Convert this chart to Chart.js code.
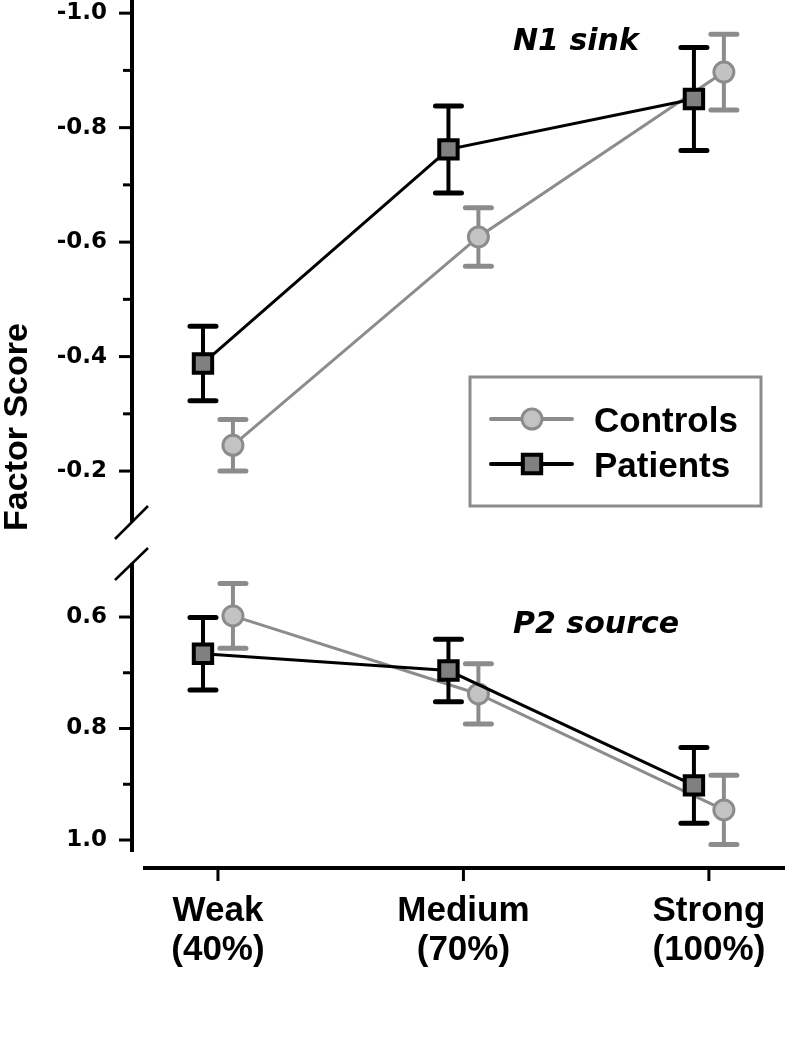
<!DOCTYPE html>
<html><head><meta charset="utf-8">
<script src="https://cdn.jsdelivr.net/npm/chart.js@4.4.1/dist/chart.umd.min.js"></script>
<style>
html,body{margin:0;padding:0;background:#fff;}
#wrap{position:relative;width:785px;height:1050px;overflow:hidden;background:#fff;}
#top{position:absolute;left:0;top:-30px;}
#bot{position:absolute;left:0;top:544px;}
</style></head><body>
<div id="wrap"><canvas id="top" width="785" height="574"></canvas><canvas id="bot" width="785" height="506"></canvas></div>
<script>
// ---- data ----
const categories = ['Weak', 'Medium', 'Strong'];
const intensities = ['(40%)', '(70%)', '(100%)'];
const seriesNames = ['Controls', 'Patients'];
const panelTitles = ['N1 sink', 'P2 source'];
const yTitle = 'Factor Score';

const n1Controls    = [-0.245, -0.609, -0.897];
const n1ControlsErr = [0.045, 0.051, 0.066];
const n1Patients    = [-0.388, -0.762, -0.850];
const n1PatientsErr = [0.065, 0.076, 0.090];

const p2Controls    = [0.598, 0.738, 0.946];
const p2ControlsErr = [0.058, 0.054, 0.062];
const p2Patients    = [0.666, 0.696, 0.902];
const p2PatientsErr = [0.065, 0.056, 0.068];

const n1Ticks = [-1.0, -0.8, -0.6, -0.4, -0.2];
const n1TickLabels = ['-1.0', '-0.8', '-0.6', '-0.4', '-0.2'];
const n1MinorTicks = [-0.9, -0.7, -0.5, -0.3];
const p2Ticks = [0.6, 0.8, 1.0];
const p2TickLabels = ['0.6', '0.8', '1.0'];
const p2MinorTicks = [0.7, 0.9];

// ---- style ----
const SHIFT = 0.061;
const CTRL_LINE = '#8c8c8c', CTRL_FILL = '#c3c3c3';
const PAT_LINE = '#000000', PAT_FILL = '#808080';
const TICK_FONT = {family: 'DejaVu Sans', size: 23, weight: 'bold'};
const CAT_FONT = {family: 'Liberation Sans', size: 35, weight: 'bold', lineHeight: 1.11};

function makeDatasets(ctrl, ctrlErr, pat, patErr) {
  return [
    {label: seriesNames[0], data: ctrl.map((v, i) => ({x: i + SHIFT, y: v})), errors: ctrlErr,
     borderColor: CTRL_LINE, borderWidth: 3, tension: 0, pointStyle: 'circle', pointRadius: 10,
     pointBorderWidth: 3, pointBackgroundColor: CTRL_FILL, pointBorderColor: CTRL_LINE, order: 2, clip: false},
    {label: seriesNames[1], data: pat.map((v, i) => ({x: i - SHIFT, y: v})), errors: patErr,
     borderColor: PAT_LINE, borderWidth: 3, tension: 0, pointStyle: 'rect', pointRadius: 13,
     pointBorderWidth: 4, pointBackgroundColor: PAT_FILL, pointBorderColor: PAT_LINE, order: 1, clip: false}
  ];
}

function decoPlugin(o) {
  return {
    id: 'deco',
    beforeDatasetDraw(chart, args) {
      const ds = chart.data.datasets[args.index];
      const ys = chart.scales.y, ctx = chart.ctx;
      ctx.save();
      ctx.strokeStyle = ds.borderColor;
      args.meta.data.forEach((pt, i) => {
        const v = ds.data[i].y, e = ds.errors[i];
        const y1 = ys.getPixelForValue(v - e), y2 = ys.getPixelForValue(v + e);
        ctx.lineCap = 'butt'; ctx.lineWidth = 4;
        ctx.beginPath(); ctx.moveTo(pt.x, y1); ctx.lineTo(pt.x, y2); ctx.stroke();
        ctx.lineCap = 'round'; ctx.lineWidth = 5;
        [y1, y2].forEach(y => { ctx.beginPath(); ctx.moveTo(pt.x - 13, y); ctx.lineTo(pt.x + 13, y); ctx.stroke(); });
      });
      ctx.restore();
    },
    afterDraw(chart) {
      const ctx = chart.ctx, ca = chart.chartArea, ys = chart.scales.y, xs = chart.scales.x;
      const Y = py => py - o.pageTop;
      ctx.save();
      ctx.strokeStyle = '#000'; ctx.fillStyle = '#000';
      // y axis line
      ctx.lineWidth = 4; ctx.lineCap = 'butt';
      ctx.beginPath(); ctx.moveTo(ca.left - 2, ca.top); ctx.lineTo(ca.left - 2, ca.bottom); ctx.stroke();
      // ticks
      ctx.lineWidth = 3;
      o.major.forEach(v => { const y = ys.getPixelForValue(v); ctx.beginPath(); ctx.moveTo(ca.left - 15, y); ctx.lineTo(ca.left - 2, y); ctx.stroke(); });
      o.minor.forEach(v => { const y = ys.getPixelForValue(v); ctx.beginPath(); ctx.moveTo(ca.left - 11, y); ctx.lineTo(ca.left - 2, y); ctx.stroke(); });
      // break slash
      ctx.lineWidth = 2.5;
      ctx.beginPath();
      if (o.top) { ctx.moveTo(115, Y(539)); ctx.lineTo(148, Y(506)); }
      else { ctx.moveTo(115, Y(580)); ctx.lineTo(148, Y(548)); }
      ctx.stroke();
      // x axis
      if (!o.top) {
        const ay = ca.bottom + 16;
        ctx.lineWidth = 4;
        ctx.beginPath(); ctx.moveTo(143, ay); ctx.lineTo(chart.width, ay); ctx.stroke();
        ctx.lineWidth = 3;
        categories.forEach((c, i) => { const x = xs.getPixelForValue(i); ctx.beginPath(); ctx.moveTo(x, ay); ctx.lineTo(x, ay + 13); ctx.stroke(); });
      }
      // panel title
      ctx.font = 'italic bold 30px "DejaVu Sans"';
      ctx.textAlign = 'left'; ctx.textBaseline = 'alphabetic';
      ctx.fillText(o.title, 513, Y(o.titleBase));
      if (o.top) {
        // y title
        ctx.save();
        ctx.font = 'bold 34px "Liberation Sans"';
        ctx.translate(27, Y(427)); ctx.rotate(-Math.PI / 2);
        ctx.textAlign = 'center';
        ctx.fillText(yTitle, 0, 0);
        ctx.restore();
        // legend
        ctx.strokeStyle = '#8c8c8c'; ctx.lineWidth = 3;
        ctx.strokeRect(470, Y(377), 291, 129);
        const rows = [{y: 419, ds: chart.data.datasets[0]}, {y: 464, ds: chart.data.datasets[1]}];
        rows.forEach(r => {
          const ly = Y(r.y), ds = r.ds;
          ctx.strokeStyle = ds.borderColor; ctx.lineWidth = 4; ctx.lineCap = 'round';
          ctx.beginPath(); ctx.moveTo(491, ly); ctx.lineTo(572, ly); ctx.stroke();
          ctx.lineCap = 'butt';
          ctx.fillStyle = ds.pointBackgroundColor; ctx.strokeStyle = ds.pointBorderColor; ctx.lineWidth = ds.pointBorderWidth;
          ctx.beginPath();
          if (ds.pointStyle === 'circle') { ctx.arc(532, ly, ds.pointRadius, 0, Math.PI * 2); }
          else { const s = ds.pointRadius * Math.SQRT1_2; ctx.rect(532 - s, ly - s, 2 * s, 2 * s); }
          ctx.fill(); ctx.stroke();
          ctx.fillStyle = '#000';
          ctx.font = 'bold 35px "Liberation Sans"';
          ctx.fillText(ds.label, 594, ly + 13);
        });
      }
      ctx.restore();
    }
  };
}

function yScale(min, max, ticks, labels) {
  return {
    type: 'linear', reverse: true, min: min, max: max,
    afterFit: s => { s.width = 134; },
    afterBuildTicks: s => { s.ticks = ticks.map(v => ({value: v})); },
    ticks: {font: TICK_FONT, color: '#000', padding: 0, callback: (v, i) => labels[i]},
    grid: {display: true, drawOnChartArea: false, drawTicks: true, tickLength: 27,
           color: 'rgba(0,0,0,0)', tickColor: 'rgba(0,0,0,0)'},
    border: {display: false}
  };
}

Chart.defaults.animation = false;

new Chart(document.getElementById('top'), {
  type: 'line',
  data: {datasets: makeDatasets(n1Controls, n1ControlsErr, n1Patients, n1PatientsErr)},
  options: {
    responsive: false, animation: false,
    layout: {autoPadding: false, padding: {top: 30, bottom: 22, left: 0, right: 0}},
    plugins: {legend: {display: false}, tooltip: {enabled: false}},
    scales: {
      x: {type: 'linear', min: -0.342, max: 2.31, display: false},
      y: yScale(-1.023, -0.111, n1Ticks, n1TickLabels)
    }
  },
  plugins: [decoPlugin({top: true, pageTop: -30, major: n1Ticks, minor: n1MinorTicks, title: panelTitles[0], titleBase: 50})]
});

new Chart(document.getElementById('bot'), {
  type: 'line',
  data: {datasets: makeDatasets(p2Controls, p2ControlsErr, p2Patients, p2PatientsErr)},
  options: {
    responsive: false, animation: false,
    layout: {autoPadding: false, padding: {top: 19, bottom: 0, left: 0, right: 0}},
    plugins: {legend: {display: false}, tooltip: {enabled: false}},
    scales: {
      x: {type: 'linear', min: -0.342, max: 2.31,
          afterFit: s => { s.height = 198; },
          afterBuildTicks: s => { s.ticks = categories.map((c, i) => ({value: i})); },
          ticks: {font: CAT_FONT, color: '#000', padding: 0, maxRotation: 0, autoSkip: false,
                  callback: (v, i) => [categories[i], intensities[i]]},
          grid: {display: true, drawOnChartArea: false, drawTicks: true, tickLength: 40,
                 color: 'rgba(0,0,0,0)', tickColor: 'rgba(0,0,0,0)'},
          border: {display: false}},
      y: yScale(0.5031, 1.0215, p2Ticks, p2TickLabels)
    }
  },
  plugins: [decoPlugin({top: false, pageTop: 544, major: p2Ticks, minor: p2MinorTicks, title: panelTitles[1], titleBase: 633})]
});
</script>
</body></html>
